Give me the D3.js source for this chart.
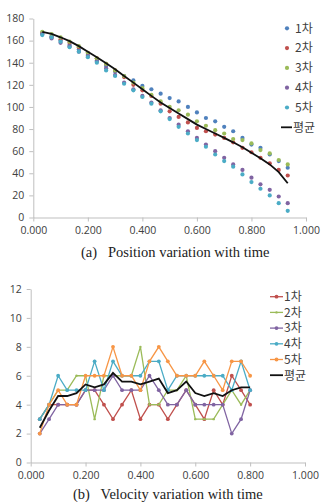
<!DOCTYPE html>
<html>
<head>
<meta charset="utf-8">
<script src="https://cdn.jsdelivr.net/npm/d3@7"></script>
<style>
  body { margin: 0; background: #fff; }
  svg { display: block; }
  .tick text { font-family: "Open Sans", "Noto Sans", sans-serif; font-size: 10.5px; fill: #404040; }
  .legend text { font-family: "Noto Sans CJK KR", "Noto Sans", sans-serif; font-size: 12px; fill: #404040; }
  .caption { font-family: "Liberation Serif", "DejaVu Serif", serif; font-size: 14.5px; fill: #222; white-space: pre; }
</style>
</head>
<body>
<script>
// Chart (a): position over time
const posTime = [0.033, 0.067, 0.100, 0.133, 0.167, 0.200, 0.233, 0.267, 0.300, 0.333,
  0.367, 0.400, 0.433, 0.467, 0.500, 0.533, 0.567, 0.600, 0.633, 0.667,
  0.700, 0.733, 0.767, 0.800, 0.833, 0.867, 0.900, 0.933];
const pos1 = [166, 164, 160, 156, 152, 147, 142, 137, 132, 128, 124, 119, 116, 112, 108, 105, 100, 95, 90, 87, 82, 78, 72, 66, 63, 57, 51, 45];
const pos2 = [167, 163, 161, 158, 154, 149, 144, 139, 133, 127, 120, 115, 110, 103, 96, 91, 86, 81, 78, 75, 72, 68, 63, 59, 54, 49, 43, 38];
const pos3 = [168, 166, 163, 159, 155, 149, 144, 139, 133, 128, 122, 117, 111, 105, 100, 97, 93, 87, 83, 79, 76, 71, 70, 67, 61, 58, 52, 48];
const pos4 = [166, 162, 158, 155, 150, 146, 141, 135, 129, 122, 116, 110, 104, 97, 90, 84, 78, 72, 66, 60, 54, 48, 43, 36, 30, 25, 19, 13];
const pos5 = [165, 163, 159, 154, 150, 145, 140, 133, 128, 121, 115, 109, 103, 96, 89, 82, 76, 70, 64, 57, 51, 46, 39, 32, 26, 20, 13, 6];
const posAvg = [168, 166, 163, 159.5, 155, 150, 145, 139.5, 134, 128, 122, 116, 110, 104, 99, 94, 89, 84, 80, 76, 72, 68, 63.5, 58.5, 53.5, 48, 41, 31];

// Chart (b): velocity over time
const velTime = [0.033, 0.067, 0.100, 0.133, 0.167, 0.200, 0.233, 0.267, 0.300, 0.333,
  0.367, 0.400, 0.433, 0.467, 0.500, 0.533, 0.567, 0.600, 0.633, 0.667,
  0.700, 0.733, 0.767, 0.800];
const vel1 = [3, 4, 4, 4, 4, 5, 5, 4, 3, 4, 5, 3, 4, 4, 3, 4, 5, 4, 3, 5, 4, 6, 5, 4];
const vel2 = [3, 4, 5, 5, 6, 6, 3, 6, 6, 6, 6, 8, 4, 4, 5, 5, 6, 3, 3, 3, 4, 5, 4, 5];
const vel3 = [2, 3, 4, 4, 4, 5, 5, 5, 6, 5, 5, 5, 6, 5, 4, 4, 5, 4, 4, 4, 4, 2, 3, 5];
const vel4 = [3, 4, 6, 5, 5, 5, 7, 5, 7, 6, 6, 6, 7, 7, 5, 6, 6, 6, 6, 6, 6, 5, 7, 5];
const vel5 = [2, 4, 5, 4, 4, 6, 6, 6, 8, 6, 6, 5, 7, 8, 7, 6, 6, 6, 7, 6, 5, 7, 7, 6];
const velAvg = [2.4, 3.6, 4.6, 4.6, 4.8, 5.4, 5.2, 5.4, 6.2, 5.6, 5.6, 5.4, 5.6, 5.8, 4.8, 5.0, 5.6, 4.8, 4.6, 4.8, 4.6, 5.0, 5.2, 5.2];

const seriesNames = ["1차", "2차", "3차", "4차", "5차"];
const avgName = "평균";
const xTicks = [0, 0.2, 0.4, 0.6, 0.8, 1.0];
const posTicks = [0, 20, 40, 60, 80, 100, 120, 140, 160, 180];
const velTicks = [0, 2, 4, 6, 8, 10, 12];
const captionA = "(a)   Position variation with time";
const captionB = "(b)   Velocity variation with time";

// Excel 2007 palette
const blue = "#4F81BD", red = "#C0504D", green = "#9BBB59", purple = "#8064A2", aqua = "#4BACC6", orange = "#F79646";
const axisColor = "#BFBFBF";

const width = 323, height = 502;
const svg = d3.select("body").append("svg")
  .attr("width", width)
  .attr("height", height);

function drawAxes(g, x, y, yTicks, yFormat) {
  const xa = g.append("g")
    .attr("transform", `translate(0,${y.range()[0]})`)
    .call(d3.axisBottom(x).tickValues(xTicks).tickFormat(d3.format(".3f")).tickSize(4).tickSizeOuter(0).tickPadding(5));
  const ya = g.append("g")
    .attr("transform", `translate(${x.range()[0]},0)`)
    .call(d3.axisLeft(y).tickValues(yTicks).tickFormat(yFormat).tickSize(4).tickSizeOuter(0).tickPadding(5));
  [xa, ya].forEach(a => {
    a.select(".domain").attr("stroke", axisColor);
    a.selectAll(".tick line").attr("stroke", axisColor);
  });
}

// ----- Chart (a) -----
{
  const x = d3.scaleLinear().domain([0, 1]).range([33.3, 306]);
  const y = d3.scaleLinear().domain([0, 180]).range([217.5, 18.5]);
  const g = svg.append("g");
  drawAxes(g, x, y, posTicks, d3.format("d"));

  const series = [pos1, pos2, pos3, pos4, pos5];
  const colors = [blue, red, green, purple, aqua];
  series.forEach((vals, s) => {
    g.append("g").selectAll("circle")
      .data(vals)
      .join("circle")
      .attr("cx", (d, i) => x(posTime[i]))
      .attr("cy", d => y(d))
      .attr("r", 2.1)
      .attr("fill", colors[s]);
  });

  g.append("path")
    .datum(posAvg)
    .attr("fill", "none")
    .attr("stroke", "#111")
    .attr("stroke-width", 1.8)
    .attr("d", d3.line().x((d, i) => x(posTime[i])).y(d => y(d)));

  // Legend
  const lg = g.append("g").attr("class", "legend");
  seriesNames.forEach((name, i) => {
    const ly = 28.3 + i * 19.8;
    lg.append("circle").attr("cx", 287).attr("cy", ly).attr("r", 2.1).attr("fill", colors[i]);
    lg.append("text").attr("x", 295).attr("y", ly).attr("dy", "0.36em").text(name);
  });
  const ay = 28.3 + 5 * 19.8;
  lg.append("line").attr("x1", 281).attr("x2", 292).attr("y1", ay).attr("y2", ay)
    .attr("stroke", "#111").attr("stroke-width", 1.8);
  lg.append("text").attr("x", 293).attr("y", ay).attr("dy", "0.36em").text(avgName);

  svg.append("text").attr("class", "caption")
    .attr("x", 81).attr("y", 257).text(captionA);
}

// ----- Chart (b) -----
{
  const x = d3.scaleLinear().domain([0, 1]).range([30.7, 305]);
  const y = d3.scaleLinear().domain([0, 12]).range([462.5, 289]);
  const g = svg.append("g");
  drawAxes(g, x, y, velTicks, d3.format("d"));

  const series = [vel1, vel2, vel3, vel4, vel5];
  const colors = [red, green, purple, aqua, orange];
  const line = d3.line().x((d, i) => x(velTime[i])).y(d => y(d));
  series.forEach((vals, s) => {
    g.append("path")
      .datum(vals)
      .attr("fill", "none")
      .attr("stroke", colors[s])
      .attr("stroke-width", 1.3)
      .attr("d", line);
    g.append("g").selectAll("circle")
      .data(vals)
      .join("circle")
      .attr("cx", (d, i) => x(velTime[i]))
      .attr("cy", d => y(d))
      .attr("r", s === 1 ? 1.2 : 1.9)
      .attr("fill", colors[s]);
  });
  g.append("path")
    .datum(velAvg)
    .attr("fill", "none")
    .attr("stroke", "#111")
    .attr("stroke-width", 1.8)
    .attr("d", line);

  const lg = g.append("g").attr("class", "legend");
  seriesNames.forEach((name, i) => {
    const ly = 296.7 + i * 15.7;
    lg.append("line").attr("x1", 270).attr("x2", 283).attr("y1", ly).attr("y2", ly)
      .attr("stroke", colors[i]).attr("stroke-width", 1.3);
    lg.append("circle").attr("cx", 276.5).attr("cy", ly).attr("r", i === 1 ? 1.2 : 1.9).attr("fill", colors[i]);
    lg.append("text").attr("x", 284).attr("y", ly).attr("dy", "0.36em").text(name);
  });
  const ay = 296.7 + 5 * 15.7;
  lg.append("line").attr("x1", 270).attr("x2", 283).attr("y1", ay).attr("y2", ay)
    .attr("stroke", "#111").attr("stroke-width", 1.8);
  lg.append("text").attr("x", 284).attr("y", ay).attr("dy", "0.36em").text(avgName);

  svg.append("text").attr("class", "caption")
    .attr("x", 73).attr("y", 499).text(captionB);
}
</script>
</body>
</html>
